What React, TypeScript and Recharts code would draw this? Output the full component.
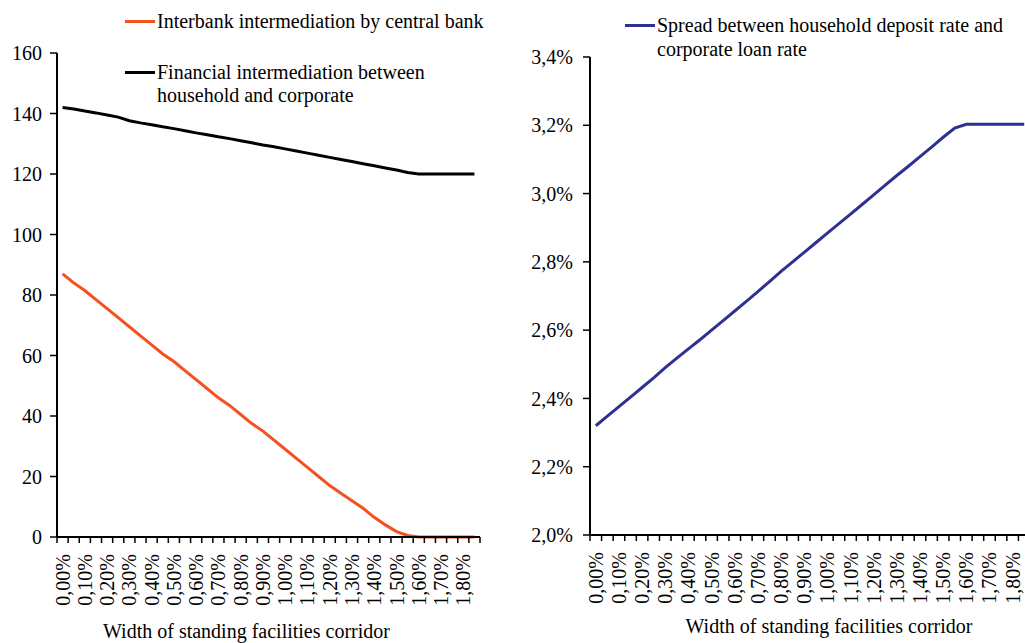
import { LineChart, Line, XAxis, YAxis, Legend, Label } from "recharts";

const corridor = [
  0, 0.05, 0.1, 0.15, 0.2, 0.25, 0.3, 0.35, 0.4, 0.45, 0.5, 0.55, 0.6, 0.65, 0.7, 0.75, 0.8, 0.85, 0.9,
  0.95, 1.0, 1.05, 1.1, 1.15, 1.2, 1.25, 1.3, 1.35, 1.4, 1.45, 1.5, 1.55, 1.6, 1.65, 1.7, 1.75, 1.8, 1.85,
];

const interbank = [
  87, 84, 81.5, 78.5, 75.5, 72.5, 69.5, 66.5, 63.5, 60.5, 58, 55, 52, 49, 46, 43.5, 40.5, 37.5, 35,
  32, 29, 26, 23, 20, 17, 14.5, 12, 9.5, 6.5, 4, 1.8, 0.5, 0, 0, 0, 0, 0, 0,
];

const householdCorporate = [
  142, 141.5, 140.8, 140.2, 139.5, 138.8, 137.6, 136.9, 136.3, 135.6, 135, 134.3, 133.6, 133, 132.3,
  131.7, 131, 130.3, 129.6, 129, 128.3, 127.6, 126.9, 126.2, 125.5, 124.8, 124.1, 123.4, 122.7, 122,
  121.3, 120.5, 120, 120, 120, 120, 120, 120,
];

const spread = [
  2.32, 2.348, 2.376, 2.404, 2.432, 2.46, 2.49, 2.518, 2.545, 2.572, 2.6, 2.628, 2.656, 2.684, 2.713,
  2.742, 2.772, 2.8, 2.828, 2.856, 2.884, 2.912, 2.94, 2.968, 2.996, 3.025, 3.053, 3.08, 3.108, 3.136,
  3.165, 3.192, 3.203, 3.203, 3.203, 3.203, 3.203, 3.203,
];

const labelTicks = [0, 0.1, 0.2, 0.3, 0.4, 0.5, 0.6, 0.7, 0.8, 0.9, 1.0, 1.1, 1.2, 1.3, 1.4, 1.5, 1.6, 1.7, 1.8];
const leftTicks = [0, 20, 40, 60, 80, 100, 120, 140, 160];
const rightTicks = [2.0, 2.2, 2.4, 2.6, 2.8, 3.0, 3.2, 3.4];

const INTERBANK = "Interbank intermediation by central bank";
const HOUSEHOLD = "Financial intermediation between\nhousehold and corporate";
const SPREAD = "Spread between household deposit rate and\ncorporate loan rate";
const AXIS_TITLE = "Width of standing facilities corridor";

const FONT = "'Liberation Serif', 'Times New Roman', serif";
const FS = 20;

// tick marks sit between categories, labels on every other category
const markTicks = corridor.map((c) => c - 0.025).concat([1.875]);
const allTicks = markTicks.concat(labelTicks).sort((a, b) => a - b);

const leftData = corridor.map((c, i) => ({ c, interbank: interbank[i], household: householdCorporate[i] }));
const rightData = corridor.map((c, i) => ({ c, spread: spread[i] }));

const pctLabel = (v: number, digits: number) => v.toFixed(digits).replace(".", ",") + "%";

const CorridorTick = (props: any) => {
  const { x, y, payload } = props;
  const v = payload.value;
  const isLabel = labelTicks.some((t) => Math.abs(t - v) < 1e-6);
  if (isLabel) {
    const ty = y + 17;
    return (
      <text
        x={x}
        y={ty}
        transform={`rotate(-90, ${x}, ${ty})`}
        textAnchor="end"
        dy="0.35em"
        fill="#000"
        fontSize={FS}
        fontFamily={FONT}
      >
        {pctLabel(v, 2)}
      </text>
    );
  }
  return <line x1={x} x2={x} y1={y} y2={y + 6} stroke="#000" strokeWidth={1.5} />;
};

const axisTitle = (dx: number, up: number) => (props: any) => {
  const vb = props.viewBox;
  return (
    <text
      x={vb.x + vb.width / 2 + dx}
      y={vb.y + vb.height - up}
      textAnchor="middle"
      fill="#000"
      fontSize={FS}
      fontFamily={FONT}
    >
      {AXIS_TITLE}
    </text>
  );
};

const legendContent = (order: string[], gap: number, lh: number) => (props: any) => {
  const items = [...(props.payload || [])].sort((a: any, b: any) => order.indexOf(a.value) - order.indexOf(b.value));
  return (
    <div style={{ display: "flex", flexDirection: "column", gap, fontFamily: FONT, fontSize: FS, color: "#000" }}>
      {items.map((p: any) => (
        <div key={p.value} style={{ display: "flex", alignItems: "flex-start" }}>
          <div style={{ width: 30, height: 3, background: p.color, marginTop: lh / 2 - 1.5, marginRight: 2, flex: "none" }} />
          <div style={{ whiteSpace: "pre", lineHeight: `${lh}px` }}>{p.value}</div>
        </div>
      ))}
    </div>
  );
};

export default function App() {
  return (
    <div style={{ position: "absolute", left: 0, top: 0, width: 1025, height: 643, overflow: "hidden", background: "#fff", fontFamily: FONT }}>
      <div style={{ position: "absolute", left: 0, top: 0 }}>
        <LineChart width={500} height={643} data={leftData} margin={{ top: 53, right: 20, bottom: 0, left: 0 }}>
          <XAxis
            dataKey="c"
            type="number"
            domain={[-0.025, 1.875]}
            allowDataOverflow
            ticks={allTicks}
            interval={0}
            tickLine={false}
            tickSize={0}
            tickMargin={0}
            tick={<CorridorTick />}
            height={106}
            axisLine={{ stroke: "#000", strokeWidth: 2 }}
          >
            <Label content={axisTitle(-22, 5)} />
          </XAxis>
          <YAxis
            domain={[0, 160]}
            ticks={leftTicks}
            width={57}
            tickSize={7}
            tickMargin={8}
            interval={0}
            axisLine={{ stroke: "#000", strokeWidth: 2 }}
            tickLine={{ stroke: "#000", strokeWidth: 1.5 }}
            tick={{ fill: "#000", fontSize: FS, fontFamily: FONT }}
          />
          <Legend
            layout="vertical"
            verticalAlign="middle"
            align="center"
            wrapperStyle={{ top: 10, left: 125, width: 380 }}
            content={legendContent([INTERBANK, HOUSEHOLD], 28, 23)}
          />
          <Line name={INTERBANK} dataKey="interbank" stroke="#F4511E" strokeWidth={3} dot={false} isAnimationActive={false} />
          <Line name={HOUSEHOLD} dataKey="household" stroke="#000000" strokeWidth={3} dot={false} isAnimationActive={false} />
        </LineChart>
      </div>
      <div style={{ position: "absolute", left: 520, top: 0 }}>
        <LineChart width={513} height={643} data={rightData} margin={{ top: 57, right: 3, bottom: 0, left: 0 }}>
          <XAxis
            dataKey="c"
            type="number"
            domain={[-0.025, 1.875]}
            allowDataOverflow
            ticks={allTicks}
            interval={0}
            tickLine={false}
            tickSize={0}
            tickMargin={0}
            tick={<CorridorTick />}
            height={108}
            axisLine={{ stroke: "#000", strokeWidth: 2 }}
          >
            <Label content={axisTitle(19, 10)} />
          </XAxis>
          <YAxis
            domain={[2.0, 3.4]}
            ticks={rightTicks}
            width={70}
            tickSize={7}
            tickMargin={10}
            interval={0}
            tickFormatter={(v: number) => pctLabel(v, 1)}
            axisLine={{ stroke: "#000", strokeWidth: 2 }}
            tickLine={{ stroke: "#000", strokeWidth: 1.5 }}
            tick={{ fill: "#000", fontSize: FS, fontFamily: FONT }}
          />
          <Legend
            layout="vertical"
            verticalAlign="middle"
            align="center"
            wrapperStyle={{ top: 13, left: 105, width: 420 }}
            content={legendContent([SPREAD], 0, 24)}
          />
          <Line name={SPREAD} dataKey="spread" stroke="#2E3192" strokeWidth={3} dot={false} isAnimationActive={false} />
        </LineChart>
      </div>
    </div>
  );
}
